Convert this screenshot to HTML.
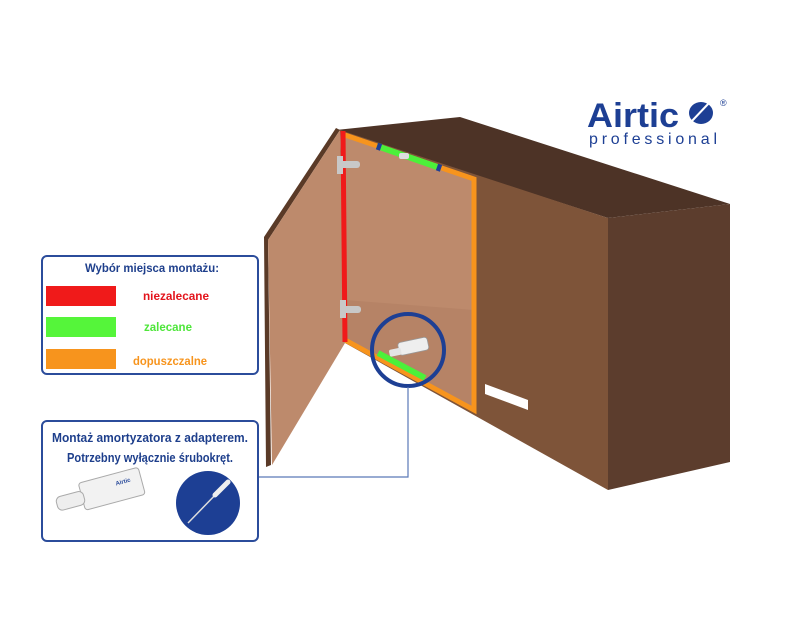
<!DOCTYPE html>
<html><head><style>
body{margin:0;background:#fff;width:796px;height:619px;overflow:hidden;font-family:"Liberation Sans",sans-serif}
</style></head><body>
<svg width="796" height="619" viewBox="0 0 796 619" xmlns="http://www.w3.org/2000/svg">
<polygon points="336,130 460,117 730,204 608,218" fill="#4d3326"/>
<polygon points="608,218 730,204 730,462 608,490" fill="#5c3d2d"/>
<polygon points="340,130 608,218 608,490 345,343" fill="#7e5439"/>
<polygon points="345,135 474,179 474,410 345,340" fill="#bd8a6c"/>
<polygon points="345,300 474,310 474,410 345,340" fill="#b07e62" opacity="0.6"/>
<polyline points="345,135 474,179 474,410 345,340" fill="none" stroke="#f7941d" stroke-width="5" stroke-linejoin="miter"/>
<line x1="377" y1="146" x2="440" y2="168" stroke="#4cf03a" stroke-width="6"/>
<line x1="377" y1="146" x2="381" y2="147.4" stroke="#1f3f95" stroke-width="7"/>
<line x1="437" y1="167" x2="441" y2="168.4" stroke="#1f3f95" stroke-width="7"/>
<rect x="399" y="153" width="10" height="6" rx="2" fill="#ddd"/>
<line x1="378" y1="353" x2="425" y2="378" stroke="#4cf03a" stroke-width="6"/>
<polygon points="264,237 336,128 340,130 268,240 271,465 266,467" fill="#5a3a27"/>
<polygon points="268,240 340,130 345,343 272,465" fill="#bd8a6c"/>
<line x1="343" y1="131" x2="345" y2="342" stroke="#f01a1a" stroke-width="5"/>
<rect x="337" y="156" width="6" height="18" fill="#c8c8c8"/>
<rect x="340" y="161" width="20" height="7" rx="3" fill="#c8c8c8"/>
<rect x="340" y="300" width="6" height="18" fill="#c8c8c8"/>
<rect x="343" y="306" width="18" height="7" rx="3" fill="#c8c8c8"/>
<rect x="398" y="340" width="30" height="13" rx="3" fill="#eee" stroke="#999" stroke-width="0.8" transform="rotate(-12 412 345)"/>
<rect x="389" y="349" width="12" height="7" rx="2" fill="#e4e4e4" transform="rotate(-12 394 351)"/>
<circle cx="408" cy="350" r="36" fill="none" stroke="#1d3f94" stroke-width="4"/>
<polygon points="485,384 528,400 528,410 485,394" fill="#fff"/>
<polyline points="408,387 408,477 258,477" fill="none" stroke="#5b79b8" stroke-width="1.2"/>
<rect x="42" y="256" width="216" height="118" rx="5" fill="#fff" stroke="#2b4c9b" stroke-width="2"/>
<text x="152" y="272" text-anchor="middle" font-size="12" font-weight="bold" fill="#1e3f8c" textLength="134" lengthAdjust="spacingAndGlyphs">Wybór miejsca montażu:</text>
<rect x="46" y="286" width="70" height="20" fill="#f01a1a"/>
<rect x="46" y="317" width="70" height="20" fill="#55f53a"/>
<rect x="46" y="349" width="70" height="20" fill="#f7941d"/>
<text x="176" y="300" text-anchor="middle" font-size="12" font-weight="bold" fill="#e3141c" textLength="66" lengthAdjust="spacingAndGlyphs">niezalecane</text>
<text x="168" y="331" text-anchor="middle" font-size="12" font-weight="bold" fill="#4ee63a" textLength="48" lengthAdjust="spacingAndGlyphs">zalecane</text>
<text x="170" y="365" text-anchor="middle" font-size="12" font-weight="bold" fill="#f7941d" textLength="74" lengthAdjust="spacingAndGlyphs">dopuszczalne</text>
<rect x="42" y="421" width="216" height="120" rx="5" fill="#fff" stroke="#2b4c9b" stroke-width="2"/>
<text x="150" y="442" text-anchor="middle" font-size="13" font-weight="bold" fill="#1e3f8c" textLength="196" lengthAdjust="spacingAndGlyphs">Montaż amortyzatora z adapterem.</text>
<text x="150" y="462" text-anchor="middle" font-size="13" font-weight="bold" fill="#1e3f8c" textLength="166" lengthAdjust="spacingAndGlyphs">Potrzebny wyłącznie śrubokręt.</text>
<g transform="rotate(-15 100 495)">
<rect x="82" y="478" width="62" height="28" rx="3" fill="#f2f2f2" stroke="#aaa"/>
<rect x="56" y="486" width="28" height="14" rx="5" fill="#eee" stroke="#aaa"/>
<text x="118" y="490" font-size="6" fill="#2b4c9b" font-weight="bold">Airtic</text>
</g>
<circle cx="208" cy="503" r="32" fill="#1d3f94"/>
<line x1="188" y1="523" x2="220" y2="490" stroke="#ddd" stroke-width="1.5"/>
<line x1="215" y1="495" x2="228" y2="482" stroke="#eee" stroke-width="5" stroke-linecap="round"/>
<text x="587" y="127" font-size="34" font-weight="bold" fill="#1d3f94" textLength="92" lengthAdjust="spacingAndGlyphs">Airtic</text>
<ellipse cx="701" cy="113" rx="12" ry="11" fill="#1d3f94"/>
<line x1="691" y1="122" x2="709" y2="103" stroke="#fff" stroke-width="2"/>
<text x="720" y="106" font-size="9" fill="#1d3f94">®</text>
<text x="589" y="144" font-size="16" fill="#1d3f94" textLength="128">professional</text>
</svg>
</body></html>
